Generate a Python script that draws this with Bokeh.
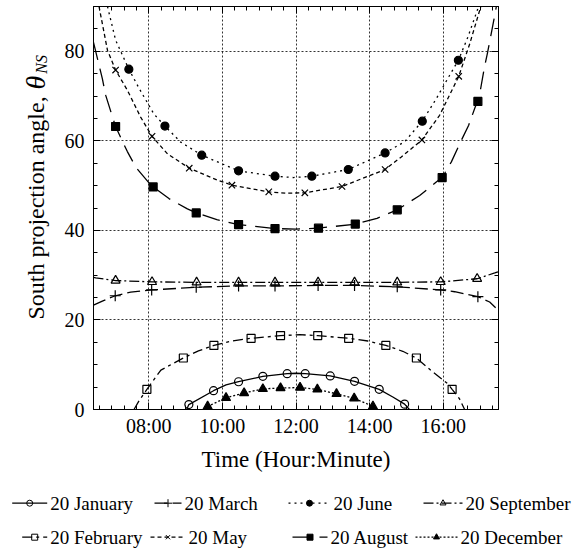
import numpy as np
from math import pi
from bokeh.plotting import figure
from bokeh.layouts import column, row
from bokeh.models import Range1d, FixedTicker, LinearAxis, CustomJSTickFormatter
from bokeh.core.properties import value
from bokeh.embed import file_html
from bokeh.resources import INLINE

FONT = "Liberation Serif"

# ---------------- data (hours of day, projection angle in degrees) ----------------
x_ticks = [8, 10, 12, 14, 16]
x_tick_labels = ["08:00", "10:00", "12:00", "14:00", "16:00"]
y_ticks = [0, 20, 40, 60, 80]

# 20 January
jan_t = [9.09, 9.76, 10.44, 11.10, 11.76, 12.25, 12.93, 13.59, 14.26, 14.95]
jan_v = [1.1, 4.2, 6.2, 7.4, 8.0, 8.0, 7.5, 6.3, 4.5, 1.2]
jan_line_t = [9.03, 9.09, 9.76, 10.10, 10.44, 11.10, 11.76, 12.0, 12.25, 12.93, 13.59, 14.26, 14.63, 14.95, 15.08]
jan_line_v = [0.0, 1.1, 4.2, 5.5, 6.2, 7.4, 8.0, 8.1, 8.0, 7.5, 6.3, 4.5, 2.8, 1.2, 0.0]

# 20 February
feb_t = [7.95, 8.94, 9.77, 10.78, 11.58, 12.59, 13.43, 14.44, 15.27, 16.24]
feb_v = [4.5, 11.5, 14.3, 15.9, 16.5, 16.5, 15.9, 14.3, 11.5, 4.5]
feb_line_t = [7.60, 7.74, 7.95, 8.33, 8.60, 8.94, 9.35, 9.77, 10.25, 10.78, 11.58, 12.10, 12.59, 13.43, 13.95,
              14.44, 14.90, 15.27, 15.67, 16.13, 16.24, 16.44, 16.58]
feb_line_v = [0.0, 2.0, 4.5, 8.8, 10.0, 11.5, 13.1, 14.3, 15.3, 15.9, 16.5, 16.7, 16.5, 15.9, 15.3,
              14.3, 13.0, 11.5, 8.7, 5.7, 4.5, 2.4, 0.0]

# 20 March
mar_t = [7.09, 8.08, 9.29, 10.44, 11.43, 12.60, 13.59, 14.75, 15.93, 16.94]
mar_v = [25.4, 26.7, 27.3, 27.6, 27.6, 27.7, 27.7, 27.4, 26.7, 25.2]
mar_line_t = [6.50, 6.74, 7.09, 7.51, 8.08, 9.29, 10.44, 11.43, 12.60, 13.59, 14.75, 15.93, 16.31, 16.94, 17.26, 17.50]
mar_line_v = [23.3, 24.2, 25.4, 26.2, 26.7, 27.3, 27.6, 27.6, 27.7, 27.7, 27.4, 26.7, 26.3, 25.2, 24.0, 22.1]

# 20 May
may_t = [7.10, 8.09, 9.10, 10.26, 11.26, 12.24, 13.25, 14.42, 15.42, 16.42]
may_v = [75.8, 61.0, 53.9, 50.1, 48.6, 48.4, 49.8, 53.6, 60.2, 74.4]
may_line_t = [6.65, 6.88, 7.10, 7.42, 7.78, 8.09, 8.51, 9.10, 9.87, 10.26, 11.26, 11.75, 12.24, 13.25,
              14.42, 14.86, 15.42, 15.90, 16.42, 16.72, 17.02]
may_line_v = [90.0, 80.2, 75.8, 71.3, 65.3, 61.0, 57.1, 53.9, 51.2, 50.1, 48.6, 48.3, 48.4, 49.8,
              53.6, 56.4, 60.2, 65.7, 74.4, 81.7, 90.0]

# 20 June
jun_t = [7.46, 8.44, 9.44, 10.44, 11.43, 12.43, 13.42, 14.42, 15.43, 16.41]
jun_v = [76.0, 63.3, 56.8, 53.3, 52.1, 52.1, 53.6, 57.3, 64.4, 78.0]
jun_line_t = [6.88, 7.10, 7.46, 7.74, 8.14, 8.44, 8.87, 9.44, 10.44, 11.43, 11.93, 12.43, 13.42,
              14.42, 14.95, 15.43, 15.81, 16.17, 16.41, 16.67, 16.96]
jun_line_v = [90.0, 82.5, 76.0, 71.7, 66.0, 63.3, 59.7, 56.8, 53.3, 52.1, 51.8, 52.1, 53.6,
              57.3, 59.8, 64.4, 69.4, 74.6, 78.0, 83.2, 90.0]

# 20 August
aug_t = [7.10, 8.12, 9.29, 10.44, 11.43, 12.61, 13.61, 14.75, 15.97, 16.94]
aug_v = [63.2, 49.7, 43.9, 41.3, 40.4, 40.5, 41.4, 44.6, 51.8, 68.8]
aug_line_t = [6.50, 6.53, 6.74, 6.83, 7.01, 7.10, 7.28, 7.42, 7.65, 8.01, 8.12, 8.55, 9.05, 9.29,
              9.85, 10.44, 11.43, 12.00, 12.61, 13.61, 14.20, 14.75, 15.36, 15.81, 15.97, 16.22,
              16.49, 16.69, 16.87, 16.94, 17.01, 17.11, 17.20, 17.33, 17.44]
aug_line_v = [82.0, 81.0, 73.9, 70.2, 65.5, 63.2, 60.0, 57.6, 54.1, 50.6, 49.7, 47.1, 44.8, 43.9,
              42.4, 41.3, 40.4, 40.3, 40.5, 41.4, 42.7, 44.6, 47.8, 50.8, 51.8, 55.3,
              60.1, 63.5, 67.6, 68.8, 71.4, 76.1, 79.6, 85.1, 89.9]

# 20 September
sep_t = [7.10, 8.09, 9.30, 10.44, 11.43, 12.60, 13.59, 14.75, 15.93, 16.92]
sep_v = [28.8, 28.5, 28.4, 28.4, 28.4, 28.4, 28.4, 28.4, 28.5, 29.2]
sep_line_t = [6.50, 6.56, 7.10, 8.09, 9.30, 10.44, 11.43, 12.60, 13.59, 14.75, 15.93, 16.92, 17.40, 17.50]
sep_line_v = [29.5, 29.4, 28.8, 28.5, 28.4, 28.4, 28.4, 28.4, 28.4, 28.4, 28.5, 29.2, 30.5, 30.8]

# 20 December
dec_t = [9.60, 10.10, 10.59, 11.10, 11.58, 12.11, 12.58, 13.10, 13.58, 14.09]
dec_v = [0.7, 2.6, 3.7, 4.6, 4.8, 4.9, 4.5, 3.5, 2.5, 0.7]
dec_line_t = [9.52, 9.60, 10.10, 10.59, 11.10, 11.58, 12.11, 12.58, 13.10, 13.58, 14.09, 14.17]
dec_line_v = [0.0, 0.7, 2.6, 3.7, 4.6, 4.8, 4.9, 4.5, 3.5, 2.5, 0.7, 0.0]

series = [
    ("20 January", jan_line_t, jan_line_v, jan_t, jan_v, "solid", "circle", 8, None),
    ("20 February", feb_line_t, feb_line_v, feb_t, feb_v, "10 4 3 4", "square", 8, None),
    ("20 March", mar_line_t, mar_line_v, mar_t, mar_v, "13 5", "cross", 11, None),
    ("20 May", may_line_t, may_line_v, may_t, may_v, "4 3", "x", 9, None),
    ("20 June", jun_line_t, jun_line_v, jun_t, jun_v, "2 4", "circle", 8, "black"),
    ("20 August", aug_line_t, aug_line_v, aug_t, aug_v, "18 9", "square", 8, "black"),
    ("20 September", sep_line_t, sep_line_v, sep_t, sep_v, "10 3 2 3", "triangle", 9, None),
    ("20 December", dec_line_t, dec_line_v, dec_t, dec_v, "2 2", "triangle", 9, "black"),
]
style = {s[0]: s[5:] for s in series}

# ---------------- layout sizes ----------------
TOTAL_W, TOTAL_H = 574, 552
YLAB_W = 56
MAIN_H = 480
LEG_H = TOTAL_H - MAIN_H


def bare(fig):
    fig.grid.visible = False
    fig.outline_line_color = None
    fig.background_fill_color = "white"
    fig.border_fill_color = "white"


# ---------------- main figure ----------------
p = figure(width=TOTAL_W - YLAB_W, height=MAIN_H, output_backend="svg", toolbar_location=None,
           x_range=Range1d(6.5, 17.5), y_range=Range1d(0, 90),
           min_border_left=93 - YLAB_W, min_border_right=76, min_border_top=6,
           min_border_bottom=MAIN_H - 409,
           x_axis_location=None, y_axis_location=None)
p.background_fill_color = "white"
p.border_fill_color = "white"
p.outline_line_color = "black"
p.outline_line_width = 1

x_minor = list(np.arange(6.5 + 1 / 6, 17.5, 1 / 3))
y_minor = list(range(0, 91, 5))
xt = FixedTicker(ticks=x_ticks, minor_ticks=x_minor)
yt = FixedTicker(ticks=y_ticks, minor_ticks=y_minor)


def style_axis(ax, labels=True):
    ax.axis_line_color = "black"
    ax.axis_line_width = 1
    ax.major_tick_in = 7
    ax.major_tick_out = 0
    ax.minor_tick_in = 4
    ax.minor_tick_out = 0
    ax.major_tick_line_color = "black"
    ax.minor_tick_line_color = "black"
    ax.major_label_text_font = FONT
    ax.major_label_text_font_size = "20px"
    ax.major_label_text_color = "black"
    ax.axis_label_text_font = FONT
    ax.axis_label_text_font_style = "normal"
    ax.axis_label_text_color = "black"
    if not labels:
        ax.formatter = CustomJSTickFormatter(code="return ''")
        ax.major_label_standoff = 0


xb = LinearAxis(ticker=xt, axis_label="Time (Hour:Minute)")
style_axis(xb)
xb.major_label_overrides = {t: s for t, s in zip(x_ticks, x_tick_labels)}
xb.major_label_standoff = 5
xb.axis_label_text_font_size = "23px"
xb.axis_label_standoff = 7
p.add_layout(xb, "below")

yl = LinearAxis(ticker=yt)
style_axis(yl)
yl.major_label_standoff = 9
p.add_layout(yl, "left")

xa = LinearAxis(ticker=xt)
style_axis(xa, labels=False)
p.add_layout(xa, "above")
yr = LinearAxis(ticker=yt)
style_axis(yr, labels=False)
p.add_layout(yr, "right")

p.xgrid.ticker = xt
p.ygrid.ticker = yt
for g in (p.xgrid, p.ygrid):
    g.grid_line_color = "black"
    g.grid_line_alpha = 0.8
    g.grid_line_dash = "2 2"
    g.grid_line_width = 1

for name, lt, lv, mt, mv, dash, marker, size, fill in series:
    p.line(lt, lv, line_color="black", line_width=1.3, line_dash=dash)
    p.scatter(mt, mv, marker=marker, size=size, line_color="black", line_width=1.2,
              fill_color=fill)

# ---------------- y-axis title (separate narrow panel) ----------------
yf = figure(width=YLAB_W, height=MAIN_H, output_backend="svg", toolbar_location=None,
            x_range=Range1d(0, YLAB_W), y_range=Range1d(0, MAIN_H), min_border=0,
            x_axis_location=None, y_axis_location=None)
bare(yf)
base_x = 35
yf.text(x=[base_x], y=[MAIN_H - 107], text=["South projection angle,"], angle=pi / 2,
        text_align="right", text_baseline="alphabetic", text_font=value(FONT),
        text_font_size=value("24px"), text_color="black")
yf.text(x=[base_x], y=[MAIN_H - 99], text=["θ"], angle=pi / 2,
        text_align="left", text_baseline="alphabetic", text_font=value(FONT),
        text_font_style="italic", text_font_size=value("28px"), text_color="black")
yf.text(x=[base_x + 6], y=[MAIN_H - 80], text=["NS"], angle=pi / 2,
        text_align="left", text_baseline="alphabetic", text_font=value(FONT),
        text_font_style="italic", text_font_size=value("16px"), text_color="black")

# ---------------- legend panel ----------------
lf = figure(width=TOTAL_W, height=LEG_H, output_backend="svg", toolbar_location=None,
            x_range=Range1d(0, TOTAL_W), y_range=Range1d(0, LEG_H), min_border=0,
            x_axis_location=None, y_axis_location=None)
bare(lf)
# (label, glyph left, glyph width, row centre measured from the page top)
legend_layout = [
    ("20 January", 11.7, 35, 502.7), ("20 March", 154, 27, 502.7),
    ("20 June", 288, 42, 502.7), ("20 September", 423, 39, 502.7),
    ("20 February", 21.7, 25, 536.7), ("20 May", 150, 35, 536.7),
    ("20 August", 292, 35, 536.7), ("20 December", 415, 42, 536.7),
]
for name, gx, gw, cy in legend_layout:
    dash, marker, size, fill = style[name]
    yy = TOTAL_H - cy
    lf.line([gx, gx + gw], [yy, yy], line_color="black", line_width=1.3, line_dash=dash)
    lf.scatter([gx + gw / 2], [yy], marker=marker, size=max(size - 3, 6), line_color="black",
               line_width=1.0, fill_color=fill)
    lf.text(x=[gx + gw + 3], y=[yy], text=[name], text_align="left", text_baseline="middle",
            text_font=value(FONT), text_font_size=value("19px"), text_color="black")

layout = column(row(yf, p), lf)
open("out.html", "w").write(file_html(layout, INLINE))
